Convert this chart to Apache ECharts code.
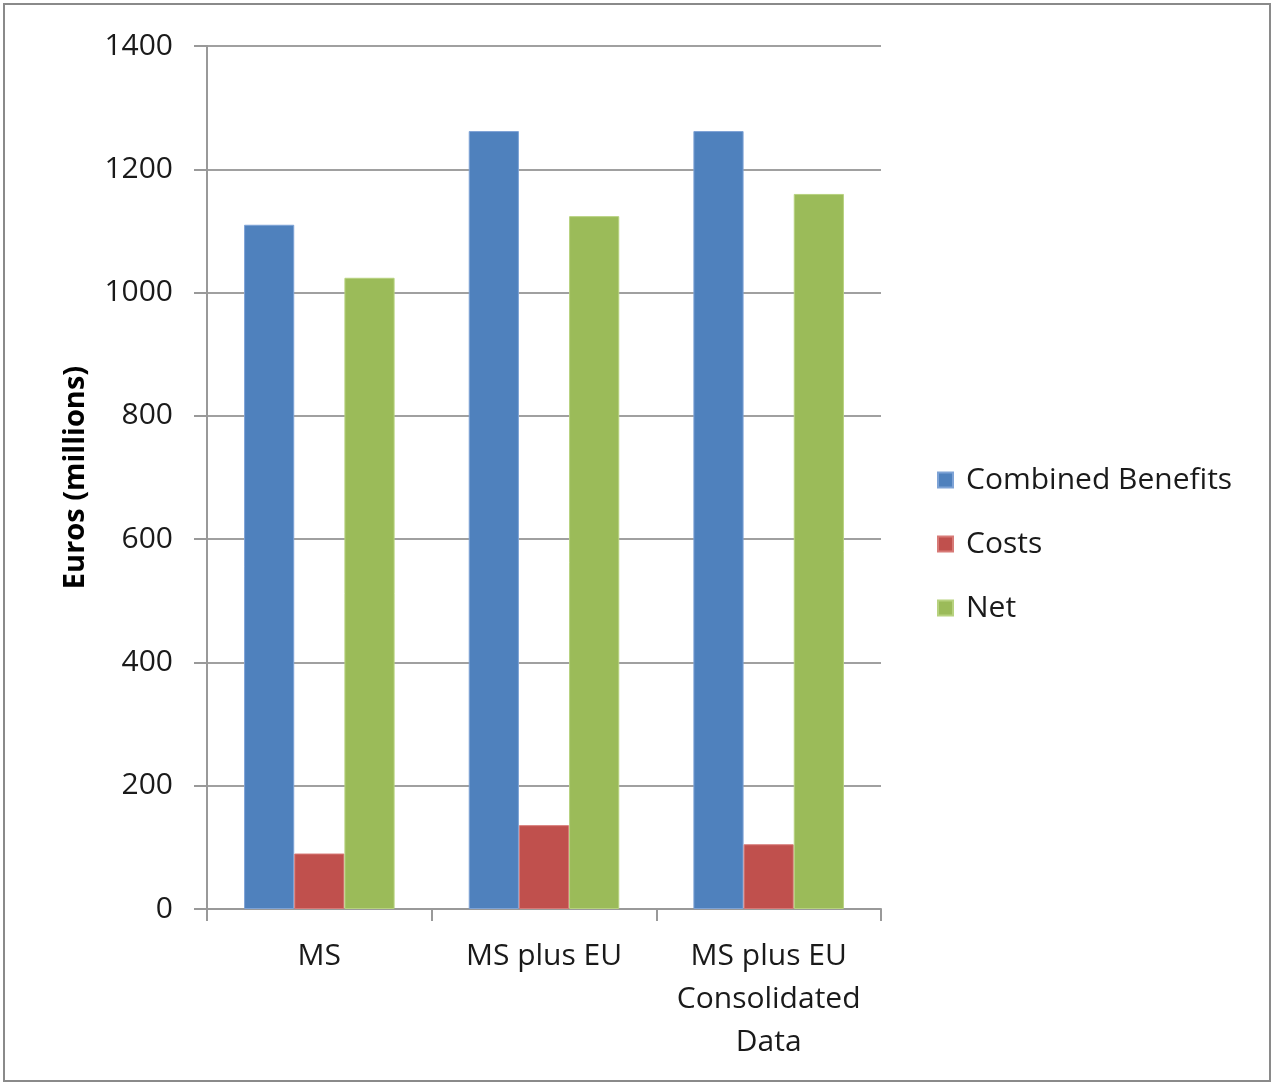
<!DOCTYPE html>
<html>
<head>
<meta charset="utf-8">
<script src="https://cdn.jsdelivr.net/npm/echarts@6/dist/echarts.min.js"></script>
<style>
html,body{margin:0;padding:0;background:#fff;}
#c{width:1273px;height:1084px;}
</style>
</head>
<body>
<div id="c"></div>
<script>
const categories = ['MS', 'MS plus EU', 'MS plus EU\nConsolidated\nData'];
const combinedBenefits = [1110, 1262, 1262];
const costs = [90, 136, 105];
const net = [1024, 1124, 1160];
const yTicks = [0, 200, 400, 600, 800, 1000, 1200, 1400];

const FONT = '"Open Sans", "Noto Sans", sans-serif';
const chart = echarts.init(document.getElementById('c'), null, {renderer: 'canvas'});
chart.setOption({
  backgroundColor: '#fff',
  animation: false,
  graphic: [{
    type: 'rect',
    shape: {x: 4, y: 4, width: 1266, height: 1077},
    style: {fill: 'none', stroke: '#8a8a8a', lineWidth: 2},
    silent: true
  }],
  grid: {left: 207, right: 392, top: 46, bottom: 175},
  legend: {
    orient: 'vertical',
    left: 932,
    top: 460,
    itemWidth: 15,
    itemHeight: 15,
    itemGap: 34,
    icon: 'rect',
    textStyle: {fontFamily: FONT, fontSize: 30, color: '#1a1a1a', lineHeight: 28, padding: [0, 0, 0, 8]},
    data: ['Combined Benefits', 'Costs', 'Net']
  },
  xAxis: {
    type: 'category',
    data: categories,
    axisLine: {lineStyle: {color: '#999', width: 2}},
    axisTick: {show: true, length: 12, lineStyle: {color: '#999', width: 2}},
    axisLabel: {fontFamily: FONT, fontSize: 30, color: '#1a1a1a', lineHeight: 43, margin: 26, interval: 0}
  },
  yAxis: {
    type: 'value',
    min: 0,
    max: 1400,
    interval: 200,
    name: 'Euros (millions)',
    nameLocation: 'middle',
    nameGap: 117,
    nameTextStyle: {fontFamily: FONT, fontSize: 29, fontWeight: 'bold', color: '#000'},
    axisLine: {show: true, lineStyle: {color: '#999', width: 2}},
    axisTick: {show: true, length: 13, lineStyle: {color: '#999', width: 2}},
    axisLabel: {fontFamily: FONT, fontSize: 30, color: '#1a1a1a', margin: 34,
      formatter: v => yTicks.includes(v) ? String(v) : ''},
    splitLine: {lineStyle: {color: '#a0a0a0', width: 2}}
  },
  series: [
    {name: 'Combined Benefits', type: 'bar', data: combinedBenefits, barGap: '0%', barCategoryGap: '33%',
      itemStyle: {color: '#4F81BD', borderColor: '#7ea3d6', borderWidth: 1}},
    {name: 'Costs', type: 'bar', data: costs, barGap: '0%', barCategoryGap: '33%',
      itemStyle: {color: '#C0504D', borderColor: '#d77a77', borderWidth: 1}},
    {name: 'Net', type: 'bar', data: net, barGap: '0%', barCategoryGap: '33%',
      itemStyle: {color: '#9BBB59', borderColor: '#b7d27f', borderWidth: 1}}
  ]
});
</script>
</body>
</html>
